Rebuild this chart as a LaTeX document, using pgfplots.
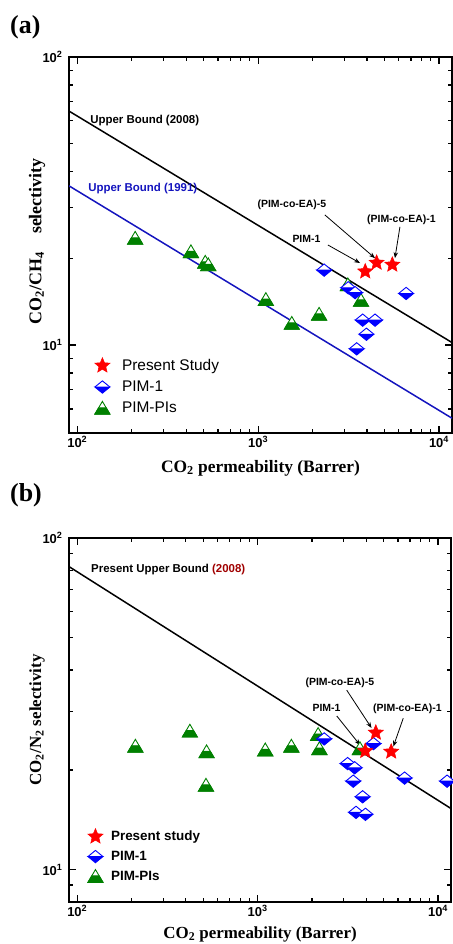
\documentclass[border=0pt]{standalone}
\usepackage{fontspec}
\setmainfont{Liberation Serif}
\setsansfont{Liberation Sans}
\usepackage{pgfplots}
\pgfplotsset{compat=1.18}
\usetikzlibrary{arrows.meta}

\definecolor{pblue}{RGB}{0,0,255}
\definecolor{pgreen}{RGB}{0,128,0}
\definecolor{pred}{RGB}{255,0,0}
\definecolor{lblue}{RGB}{20,20,190}
\definecolor{dred}{RGB}{160,0,0}
\newcommand\tl[1]{\mbox{\sffamily\bfseries\fontsize{13}{15}\selectfont 10\textsuperscript{#1}}}

\pgfdeclareplotmark{fstar}{%
  \pgfpathmoveto{\pgfpointpolar{90}{\pgfplotmarksize}}%
  \pgfpathlineto{\pgfpointpolar{126}{0.45\pgfplotmarksize}}%
  \pgfpathlineto{\pgfpointpolar{162}{\pgfplotmarksize}}%
  \pgfpathlineto{\pgfpointpolar{198}{0.45\pgfplotmarksize}}%
  \pgfpathlineto{\pgfpointpolar{234}{\pgfplotmarksize}}%
  \pgfpathlineto{\pgfpointpolar{270}{0.45\pgfplotmarksize}}%
  \pgfpathlineto{\pgfpointpolar{306}{\pgfplotmarksize}}%
  \pgfpathlineto{\pgfpointpolar{342}{0.45\pgfplotmarksize}}%
  \pgfpathlineto{\pgfpointpolar{18}{\pgfplotmarksize}}%
  \pgfpathlineto{\pgfpointpolar{54}{0.45\pgfplotmarksize}}%
  \pgfpathclose
  \pgfusepathqfillstroke
}
\pgfdeclareplotmark{hdiamond}{%
  \begin{pgfscope}
  \pgfsetfillcolor{white}%
  \pgfpathmoveto{\pgfqpoint{-\pgfplotmarksize}{0pt}}%
  \pgfpathlineto{\pgfqpoint{0pt}{0.82\pgfplotmarksize}}%
  \pgfpathlineto{\pgfqpoint{\pgfplotmarksize}{0pt}}%
  \pgfpathclose
  \pgfusepathqfill
  \end{pgfscope}
  \pgfpathmoveto{\pgfqpoint{-\pgfplotmarksize}{0pt}}%
  \pgfpathlineto{\pgfqpoint{0pt}{-0.82\pgfplotmarksize}}%
  \pgfpathlineto{\pgfqpoint{\pgfplotmarksize}{0pt}}%
  \pgfpathclose
  \pgfusepathqfillstroke
  \pgfpathmoveto{\pgfqpoint{-\pgfplotmarksize}{0pt}}%
  \pgfpathlineto{\pgfqpoint{0pt}{0.82\pgfplotmarksize}}%
  \pgfpathlineto{\pgfqpoint{\pgfplotmarksize}{0pt}}%
  \pgfusepathqstroke
}
\pgfdeclareplotmark{htri}{%
  \begin{pgfscope}
  \pgfsetfillcolor{white}%
  \pgfpathmoveto{\pgfqpoint{0pt}{0.9\pgfplotmarksize}}%
  \pgfpathlineto{\pgfqpoint{-\pgfplotmarksize}{-0.8\pgfplotmarksize}}%
  \pgfpathlineto{\pgfqpoint{\pgfplotmarksize}{-0.8\pgfplotmarksize}}%
  \pgfpathclose
  \pgfusepathqfill
  \end{pgfscope}
  \pgfpathmoveto{\pgfqpoint{-\pgfplotmarksize}{-0.8\pgfplotmarksize}}%
  \pgfpathlineto{\pgfqpoint{\pgfplotmarksize}{-0.8\pgfplotmarksize}}%
  \pgfpathlineto{\pgfqpoint{0.5\pgfplotmarksize}{0.05\pgfplotmarksize}}%
  \pgfpathlineto{\pgfqpoint{-0.5\pgfplotmarksize}{0.05\pgfplotmarksize}}%
  \pgfpathclose
  \pgfusepathqfillstroke
  \pgfpathmoveto{\pgfqpoint{0pt}{0.9\pgfplotmarksize}}%
  \pgfpathlineto{\pgfqpoint{-\pgfplotmarksize}{-0.8\pgfplotmarksize}}%
  \pgfpathlineto{\pgfqpoint{\pgfplotmarksize}{-0.8\pgfplotmarksize}}%
  \pgfpathclose
  \pgfusepathqstroke
}

\begin{document}
\begin{tikzpicture}
\path[use as bounding box] (0,0) rectangle (453bp,944bp);
\node[anchor=west, font=\bfseries\fontsize{26}{30}\selectfont, inner sep=0pt] at (10bp,917bp) {(a)};
\node[anchor=west, font=\bfseries\fontsize{26}{30}\selectfont, inner sep=0pt] at (10bp,449bp) {(b)};

% ---------------- Panel (a)
\begin{axis}[
  xmode=log, ymode=log, scale only axis,
  at={(69bp,511bp)}, anchor=south west, width=383bp, height=376bp,
  xmin=90, xmax=11800, ymin=4.95, ymax=100,
  axis line style={line width=1.6bp},
  tick style={black, line width=1.2bp},
  major tick length=7bp, minor tick length=4bp,
  xtick={100,1000,10000},
  xticklabels={\tl{2},\tl{3},\tl{4}},
  minor xtick={200,300,400,500,600,700,800,900,2000,3000,4000,5000,6000,7000,8000,9000},
  ytick={10,100},
  yticklabels={\tl{1},\tl{2}},
  minor ytick={6,7,8,9,20,30,40,50,60,70,80,90},
  yticklabel style={xshift=-3bp},
  xlabel={CO\textsubscript{2} permeability (Barrer)},
  xlabel style={font=\bfseries\fontsize{17.5}{20}\selectfont, at={(axis description cs:0.5,-0.093)}, anchor=center},
  ylabel={CO\textsubscript{2}/CH\textsubscript{4}\quad selectivity},
  ylabel style={font=\bfseries\fontsize{18}{20}\selectfont, at={(axis description cs:-0.0836,0.51)}, anchor=center},
  legend cell align=left,
  legend style={at={(0.059,0.123)}, anchor=west, draw=none, fill=none,
    font=\sffamily\fontsize{15.5}{17}\selectfont, row sep=5bp},
]
\addplot[black, line width=1.5bp, forget plot] coordinates {(90,64.9) (11800,10.2)};
\addplot[lblue, line width=1.5bp, forget plot] coordinates {(90,35.7) (11800,5.57)};
\addplot[only marks, color=pgreen, mark=htri, mark size=7.5bp, mark options={fill=pgreen, line width=0.9bp}, forget plot] coordinates {(209,23.5) (425,21.1) (510,19.4) (530,19.0) (1103,14.4) (1535,11.9) (2173,12.8) (3133,16.2) (3706,14.3)};
\addplot[only marks, color=pblue, mark=hdiamond, mark size=7.5bp, mark options={fill=pblue, line width=0.9bp}, forget plot] coordinates {(2317,18.2) (3150,15.8) (3436,15.2) (6580,15.1) (3785,12.2) (4430,12.2) (3970,10.9) (3508,9.7)};
\addplot[only marks, color=pred, mark=fstar, mark size=8bp, mark options={fill=pred, line width=0.5bp}] coordinates {(3910,18.0) (4520,19.3) (5520,19.0)};
\addlegendentry{\hspace{10bp}Present Study}
\addlegendimage{only marks, color=pblue, mark=hdiamond, mark size=7.5bp, mark options={fill=pblue, line width=0.9bp}}
\addlegendentry{\hspace{10bp}PIM-1}
\addlegendimage{only marks, color=pgreen, mark=htri, mark size=7.5bp, mark options={fill=pgreen, line width=0.9bp}}
\addlegendentry{\hspace{10bp}PIM-PIs}

\node[font=\sffamily\bfseries\fontsize{11.5}{13}\selectfont, anchor=west, inner sep=0pt] at (rel axis cs:0.055,0.832) {Upper Bound (2008)};
\node[font=\sffamily\bfseries\fontsize{11.5}{13}\selectfont, anchor=west, inner sep=0pt, text=lblue] at (rel axis cs:0.050,0.649) {Upper Bound (1991)};
\node[font=\sffamily\bfseries\fontsize{10.5}{12}\selectfont, inner sep=0pt] at (rel axis cs:0.582,0.606) {(PIM-co-EA)-5};
\node[font=\sffamily\bfseries\fontsize{10.5}{12}\selectfont, inner sep=0pt] at (rel axis cs:0.868,0.566) {(PIM-co-EA)-1};
\node[font=\sffamily\bfseries\fontsize{10.5}{12}\selectfont, inner sep=0pt] at (rel axis cs:0.620,0.516) {PIM-1};
\draw[-{Stealth[length=6bp,width=4.5bp]}, line width=0.8bp] (rel axis cs:0.668,0.580) -- (rel axis cs:0.799,0.465);
\draw[-{Stealth[length=6bp,width=4.5bp]}, line width=0.8bp] (rel axis cs:0.864,0.548) -- (rel axis cs:0.851,0.465);
\draw[-{Stealth[length=6bp,width=4.5bp]}, line width=0.8bp] (rel axis cs:0.676,0.500) -- (rel axis cs:0.760,0.452);
\end{axis}

% ---------------- Panel (b)
\begin{axis}[
  xmode=log, ymode=log, scale only axis,
  at={(69bp,42bp)}, anchor=south west, width=382bp, height=364bp,
  xmin=90, xmax=11800, ymin=8, ymax=100,
  axis line style={line width=1.6bp},
  tick style={black, line width=1.2bp},
  major tick length=7bp, minor tick length=4bp,
  xtick={100,1000,10000},
  xticklabels={\tl{2},\tl{3},\tl{4}},
  minor xtick={200,300,400,500,600,700,800,900,2000,3000,4000,5000,6000,7000,8000,9000},
  ytick={10,100},
  yticklabels={\tl{1},\tl{2}},
  minor ytick={9,20,30,40,50,60,70,80,90},
  yticklabel style={xshift=-3bp},
  xlabel={CO\textsubscript{2} permeability (Barrer)},
  xlabel style={font=\bfseries\fontsize{17}{20}\selectfont, at={(axis description cs:0.5,-0.088)}, anchor=center},
  ylabel={CO\textsubscript{2}/N\textsubscript{2} selectivity},
  ylabel style={font=\bfseries\fontsize{17}{20}\selectfont, at={(axis description cs:-0.0838,0.5)}, anchor=center},
  legend cell align=left,
  legend style={at={(0.041,0.126)}, anchor=west, draw=none, fill=none,
    font=\sffamily\bfseries\fontsize{13.5}{15}\selectfont, row sep=5bp},
]
\addplot[black, line width=1.5bp, forget plot] coordinates {(90,82) (11800,15.3)};
\addplot[only marks, color=pgreen, mark=htri, mark size=7.5bp, mark options={fill=pgreen, line width=0.9bp}, forget plot] coordinates {(210,23.6) (421,26.2) (521,22.7) (517,18.0) (1102,23.0) (1538,23.6) (2164,25.6) (2200,23.2) (3690,23.2)};
\addplot[only marks, color=pblue, mark=hdiamond, mark size=7.5bp, mark options={fill=pblue, line width=0.9bp}, forget plot] coordinates {(2338,24.8) (4385,24.0) (3153,20.9) (3450,20.3) (3388,18.5) (6525,18.9) (11220,18.5) (3820,16.6) (3510,14.9) (3960,14.7)};
\addplot[only marks, color=pred, mark=fstar, mark size=8bp, mark options={fill=pred, line width=0.5bp}] coordinates {(3950,22.8) (4520,25.9) (5500,22.7)};
\addlegendentry{\hspace{6bp}Present study}
\addlegendimage{only marks, color=pblue, mark=hdiamond, mark size=7.5bp, mark options={fill=pblue, line width=0.9bp}}
\addlegendentry{\hspace{6bp}PIM-1}
\addlegendimage{only marks, color=pgreen, mark=htri, mark size=7.5bp, mark options={fill=pgreen, line width=0.9bp}}
\addlegendentry{\hspace{6bp}PIM-PIs}

\node[font=\sffamily\bfseries\fontsize{11.5}{13}\selectfont, anchor=west, inner sep=0pt] at (rel axis cs:0.0576,0.912) {Present Upper Bound \textcolor{dred}{(2008)}};
\node[font=\sffamily\bfseries\fontsize{10.5}{12}\selectfont, inner sep=0pt] at (rel axis cs:0.709,0.602) {(PIM-co-EA)-5};
\node[font=\sffamily\bfseries\fontsize{10.5}{12}\selectfont, inner sep=0pt] at (rel axis cs:0.886,0.531) {(PIM-co-EA)-1};
\node[font=\sffamily\bfseries\fontsize{10.5}{12}\selectfont, inner sep=0pt] at (rel axis cs:0.674,0.534) {PIM-1};
\draw[-{Stealth[length=6bp,width=4.5bp]}, line width=0.8bp] (rel axis cs:0.727,0.582) -- (rel axis cs:0.792,0.478);
\draw[-{Stealth[length=6bp,width=4.5bp]}, line width=0.8bp] (rel axis cs:0.875,0.505) -- (rel axis cs:0.849,0.427);
\draw[-{Stealth[length=6bp,width=4.5bp]}, line width=0.8bp] (rel axis cs:0.701,0.511) -- (rel axis cs:0.762,0.431);
\end{axis}
\end{tikzpicture}
\end{document}
